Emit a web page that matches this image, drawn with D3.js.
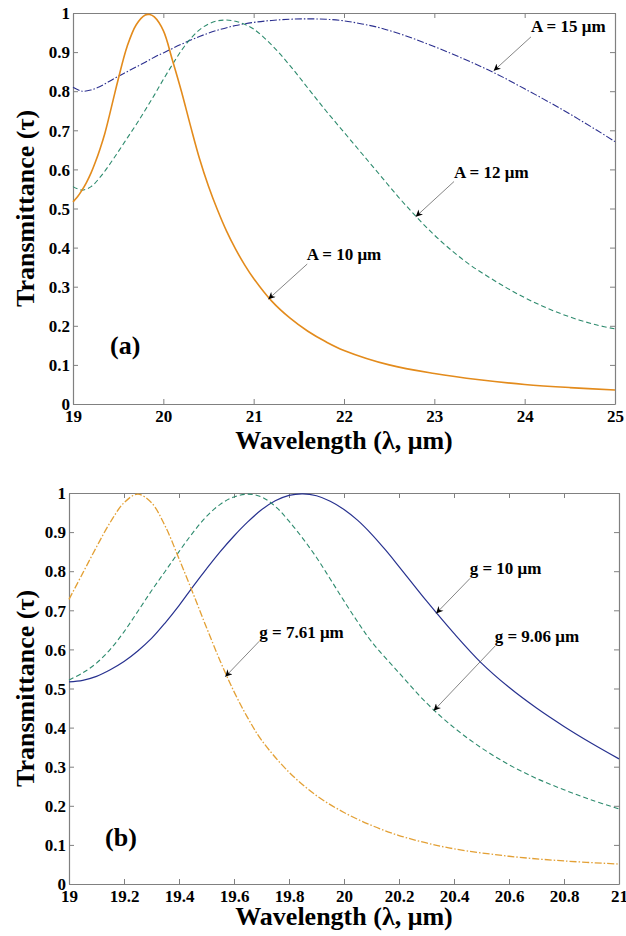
<!DOCTYPE html>
<html>
<head>
<meta charset="utf-8">
<script src="https://cdn.jsdelivr.net/npm/d3@7"></script>
<style>
  body { margin: 0; background: #fff; }
  svg text { font-family: "Liberation Serif", "Times New Roman", serif !important; font-weight: bold; fill: #000; }
</style>
</head>
<body>
<div id="chart-container"></div>
<script>
// ---- panel (a): period A ----
var a_lam10 = [19, 19.05, 19.1, 19.15, 19.2, 19.25, 19.3, 19.35, 19.4, 19.45, 19.5, 19.6, 19.7, 19.8, 19.85, 19.9, 20, 20.1, 20.2, 20.3, 20.4, 20.5, 20.6, 20.7, 20.8, 20.9, 21, 21.2, 21.4, 21.6, 21.8, 22, 22.5, 23, 23.5, 24, 24.5, 25];
var a_tau10 = [0.517, 0.530, 0.547, 0.567, 0.591, 0.620, 0.653, 0.690, 0.735, 0.783, 0.830, 0.915, 0.970, 0.995, 0.996, 0.990, 0.955, 0.880, 0.800, 0.712, 0.628, 0.557, 0.496, 0.442, 0.396, 0.356, 0.321, 0.263, 0.220, 0.186, 0.159, 0.137, 0.100, 0.078, 0.062, 0.050, 0.042, 0.036];

var a_lam12 = [19, 19.1, 19.2, 19.3, 19.4, 19.5, 19.6, 19.7, 19.8, 19.9, 20, 20.1, 20.2, 20.3, 20.4, 20.5, 20.6, 20.7, 20.8, 20.9, 21, 21.2, 21.4, 21.6, 21.8, 22, 22.2, 22.4, 22.6, 22.8, 23, 23.2, 23.4, 23.6, 23.8, 24, 24.2, 24.4, 24.6, 24.8, 25];
var a_tau12 = [0.556, 0.547, 0.556, 0.580, 0.611, 0.645, 0.680, 0.715, 0.752, 0.790, 0.830, 0.868, 0.904, 0.934, 0.957, 0.972, 0.980, 0.982, 0.979, 0.971, 0.959, 0.918, 0.866, 0.808, 0.750, 0.695, 0.640, 0.585, 0.530, 0.479, 0.432, 0.391, 0.355, 0.325, 0.297, 0.272, 0.250, 0.231, 0.215, 0.202, 0.192];

var a_lam15 = [19, 19.1, 19.2, 19.3, 19.4, 19.5, 19.6, 19.7, 19.8, 19.9, 20, 20.2, 20.4, 20.6, 20.8, 21, 21.2, 21.4, 21.6, 21.8, 22, 22.2, 22.4, 22.6, 22.8, 23, 23.2, 23.4, 23.6, 23.8, 24, 24.2, 24.4, 24.6, 24.8, 25];
var a_tau15 = [0.810, 0.800, 0.803, 0.812, 0.825, 0.838, 0.850, 0.862, 0.874, 0.887, 0.898, 0.920, 0.940, 0.956, 0.968, 0.976, 0.981, 0.984, 0.985, 0.984, 0.980, 0.972, 0.962, 0.948, 0.932, 0.914, 0.895, 0.875, 0.854, 0.831, 0.806, 0.781, 0.755, 0.728, 0.700, 0.671];

var a_xticks = [19, 20, 21, 22, 23, 24, 25];

// ---- panel (b): gap g ----
var b_lam761 = [19, 19.05, 19.1, 19.15, 19.2, 19.25, 19.3, 19.35, 19.4, 19.45, 19.5, 19.55, 19.6, 19.65, 19.7, 19.8, 19.9, 20, 20.1, 20.2, 20.3, 20.4, 20.6, 20.8, 21];
var b_tau761 = [0.728, 0.795, 0.862, 0.925, 0.975, 0.997, 0.975, 0.915, 0.832, 0.745, 0.656, 0.570, 0.492, 0.425, 0.368, 0.286, 0.226, 0.183, 0.150, 0.124, 0.105, 0.090, 0.071, 0.059, 0.051];

var b_lam906 = [19, 19.05, 19.1, 19.15, 19.2, 19.25, 19.3, 19.35, 19.4, 19.45, 19.5, 19.55, 19.6, 19.65, 19.7, 19.75, 19.8, 19.85, 19.9, 19.95, 20, 20.05, 20.1, 20.2, 20.3, 20.4, 20.5, 20.6, 20.7, 20.8, 20.9, 21];
var b_tau906 = [0.522, 0.540, 0.565, 0.600, 0.645, 0.697, 0.750, 0.800, 0.850, 0.898, 0.940, 0.971, 0.990, 0.997, 0.990, 0.966, 0.928, 0.884, 0.835, 0.780, 0.724, 0.670, 0.620, 0.540, 0.463, 0.400, 0.348, 0.305, 0.270, 0.241, 0.215, 0.192];

var b_lam10 = [19, 19.05, 19.1, 19.15, 19.2, 19.25, 19.3, 19.35, 19.4, 19.45, 19.5, 19.55, 19.6, 19.65, 19.7, 19.75, 19.8, 19.85, 19.9, 19.95, 20, 20.05, 20.1, 20.15, 20.2, 20.3, 20.4, 20.5, 20.6, 20.7, 20.8, 20.9, 21];
var b_tau10 = [0.517, 0.521, 0.531, 0.548, 0.569, 0.596, 0.628, 0.668, 0.712, 0.760, 0.806, 0.850, 0.890, 0.926, 0.957, 0.980, 0.994, 0.998, 0.993, 0.979, 0.958, 0.930, 0.895, 0.855, 0.812, 0.724, 0.641, 0.565, 0.503, 0.450, 0.403, 0.360, 0.320];

var b_xticks = [19, 19.2, 19.4, 19.6, 19.8, 20, 20.2, 20.4, 20.6, 20.8, 21];

var y_ticks = [0, 0.1, 0.2, 0.3, 0.4, 0.5, 0.6, 0.7, 0.8, 0.9, 1];

// annotations: [text, text lam, text tau, tail lam, tail tau, tip lam, tip tau]
var a_notes = [
  ["A = 15 \u03bcm", 24.07, 0.951, 24.07, 0.939, 23.657, 0.852],
  ["A = 12 \u03bcm", 23.218, 0.577, 23.218, 0.569, 22.794, 0.479],
  ["A = 10 \u03bcm", 21.587, 0.368, 21.593, 0.358, 21.162, 0.268]
];
var b_notes = [
  ["g = 7.61 \u03bcm", 19.692, 0.628, 19.692, 0.621, 19.568, 0.530],
  ["g = 10 \u03bcm", 20.457, 0.793, 20.459, 0.782, 20.335, 0.692],
  ["g = 9.06 \u03bcm", 20.548, 0.618, 20.550, 0.609, 20.326, 0.443]
];

var serif = "'Liberation Serif', 'Times New Roman', serif";

var svg = d3.select("#chart-container")
  .append("svg")
  .attr("width", 626)
  .attr("height", 936);

svg.append("defs").append("marker")
  .attr("id", "arrow")
  .attr("viewBox", "0 0 10 10")
  .attr("refX", 10)
  .attr("refY", 5)
  .attr("markerUnits", "userSpaceOnUse")
  .attr("markerWidth", 8)
  .attr("markerHeight", 7)
  .attr("orient", "auto")
  .append("path")
  .attr("d", "M0,0 L10,5 L0,10 L3,5 Z")
  .attr("fill", "#000");

function zip(xs, ys) {
  return xs.map(function(x, i) { return [x, ys[i]]; });
}

function draw_panel(p) {
  var g = svg.append("g")
    .attr("transform", "translate(" + p.left + "," + p.top + ")");

  var x = d3.scaleLinear().domain(p.xdomain).range([0, p.width]);
  var y = d3.scaleLinear().domain([0, 1]).range([p.height, 0]);

  var fmt = function(d) { return String(+d.toFixed(1)); };

  // box + inward ticks on all four sides
  var axes = [
    { axis: d3.axisBottom(x).tickValues(p.xticks).tickFormat(fmt), t: "translate(0," + p.height + ")", kind: "x" },
    { axis: d3.axisTop(x).tickValues(p.xticks).tickFormat(""), t: null },
    { axis: d3.axisLeft(y).tickValues(y_ticks).tickFormat(fmt), t: null, kind: "y" },
    { axis: d3.axisRight(y).tickValues(y_ticks).tickFormat(""), t: "translate(" + p.width + ",0)" }
  ];
  axes.forEach(function(a) {
    var ag = g.append("g");
    if (a.t) ag.attr("transform", a.t);
    ag.call(a.axis.tickSizeInner(-5).tickSizeOuter(0).tickPadding(3));
    ag.attr("font-family", serif);
    ag.select(".domain").attr("stroke", "#808080").attr("stroke-width", 1.2);
    ag.selectAll(".tick line").attr("stroke", "#808080").attr("stroke-width", 1);
    ag.selectAll(".tick text")
      .style("font-family", serif)
      .style("font-size", "17px")
      .style("font-weight", "bold")
      .attr("fill", "#000");
    if (a.kind === "x") {
      ag.selectAll(".tick text").attr("y", 18).attr("dy", 0);
    }
    if (a.kind === "y") {
      ag.selectAll(".tick text").attr("x", -3).attr("dy", "0.34em");
    }
  });

  var line = d3.line()
    .x(function(d) { return x(d[0]); })
    .y(function(d) { return y(d[1]); })
    .curve(d3.curveCatmullRom.alpha(0.5));

  p.series.forEach(function(s) {
    g.append("path")
      .datum(zip(s.lam, s.tau))
      .attr("d", line)
      .attr("fill", "none")
      .attr("stroke", s.color)
      .attr("stroke-width", s.width)
      .attr("stroke-dasharray", s.dash);
  });

  // annotations
  p.notes.forEach(function(n) {
    g.append("line")
      .attr("x1", x(n[3])).attr("y1", y(n[4]))
      .attr("x2", x(n[5])).attr("y2", y(n[6]))
      .attr("stroke", "#666")
      .attr("stroke-width", 0.8)
      .attr("marker-end", "url(#arrow)");
    g.append("text")
      .attr("x", x(n[1])).attr("y", y(n[2]))
      .style("font-family", serif)
      .style("font-size", "17px")
      .text(n[0]);
  });

  g.append("text")
    .attr("x", x(p.tag[1])).attr("y", y(p.tag[2]))
    .style("font-family", serif)
    .style("font-size", "26px")
    .text(p.tag[0]);

  // axis titles
  g.append("text")
    .attr("x", p.width / 2)
    .attr("y", p.xlabel_y)
    .attr("text-anchor", "middle")
    .style("font-family", serif)
    .style("font-size", "26px")
    .text("Wavelength (\u03bb, \u03bcm)");

  g.append("text")
    .attr("transform", "translate(" + p.ylabel_x + "," + (p.height / 2) + ") rotate(-90)")
    .attr("text-anchor", "middle")
    .style("font-family", serif)
    .style("font-size", "26px")
    .text("Transmittance (\u03c4)");
}

draw_panel({
  left: 73, top: 13, width: 542, height: 391,
  xdomain: [19, 25], xticks: a_xticks,
  xlabel_y: 436, ylabel_x: -39,
  tag: ["(a)", 19.41, 0.128],
  notes: a_notes,
  series: [
    { lam: a_lam15, tau: a_tau15, color: "#2b2f8f", width: 1.1, dash: "7,2,1.5,2" },
    { lam: a_lam12, tau: a_tau12, color: "#2e8b6e", width: 1.1, dash: "5,3" },
    { lam: a_lam10, tau: a_tau10, color: "#e38b1c", width: 1.6, dash: null }
  ]
});

draw_panel({
  left: 69, top: 493, width: 550, height: 391,
  xdomain: [19, 21], xticks: b_xticks,
  xlabel_y: 432, ylabel_x: -35,
  tag: ["(b)", 19.131, 0.098],
  notes: b_notes,
  series: [
    { lam: b_lam10, tau: b_tau10, color: "#27318f", width: 1.2, dash: null },
    { lam: b_lam906, tau: b_tau906, color: "#2e8b6e", width: 1.1, dash: "5,3" },
    { lam: b_lam761, tau: b_tau761, color: "#e3a035", width: 1.3, dash: "7,2,1.5,2" }
  ]
});
</script>
</body>
</html>
